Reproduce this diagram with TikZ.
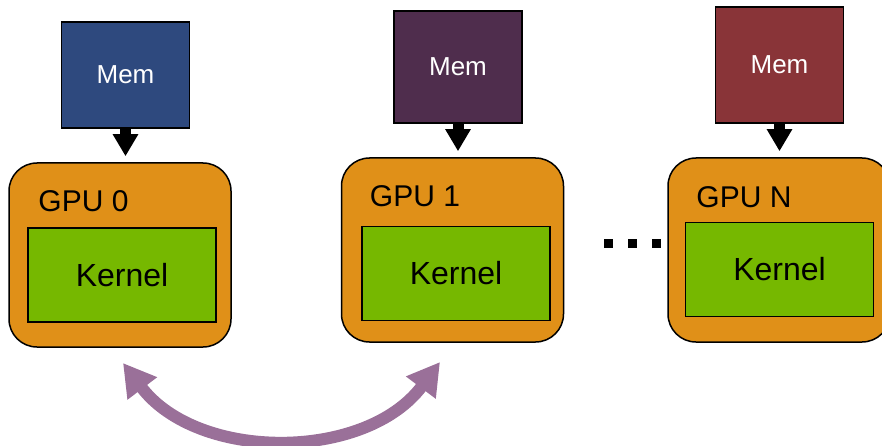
\documentclass[tikz,border=0pt]{standalone}
\usepackage{fontspec}
\setmainfont{Liberation Sans}
\usetikzlibrary{arrows.meta,positioning}
\definecolor{memblue}{RGB}{46,73,126}
\definecolor{mempurple}{RGB}{79,45,77}
\definecolor{memred}{RGB}{137,52,56}
\definecolor{gpuorange}{RGB}{224,144,24}
\definecolor{kernelgreen}{RGB}{118,184,0}
\definecolor{linkpurple}{RGB}{154,112,153}

\begin{document}
\begin{tikzpicture}[x=1pt, y=1pt,
  mem/.style={draw=black, line width=1.5pt, minimum width=128pt,
    text=white, font=\fontsize{26}{30}\selectfont, inner sep=0pt},
  gpu/.style={draw=black, line width=1.5pt, rounded corners=28pt, fill=gpuorange,
    minimum width=222pt, minimum height=184pt},
  kernel/.style={draw=black, line width=1.5pt, fill=kernelgreen,
    minimum width=188pt, minimum height=94pt, font=\fontsize{32}{36}\selectfont},
  gpulbl/.style={anchor=base west, font=\fontsize{30}{34}\selectfont, inner sep=0pt},
  feed/.style={-{Triangle[width=24pt,length=22pt]}, line width=11pt, shorten >=6pt},
  link/.style={{Triangle[width=35pt,length=32pt]}-{Triangle[width=35pt,length=32pt]},
    line width=12pt, linkpurple},
  dot/.style={fill=black, minimum size=9pt, inner sep=0pt}
]
\clip (0,0) rectangle (882,445);
% memories
\node[mem, fill=memblue, minimum height=106pt] (m0) at (125.5,370) {Mem};
\node[mem, fill=mempurple, minimum height=112pt] (m1) at (458,378) {Mem};
\node[mem, fill=memred, minimum height=116pt] (mN) at (779.5,380) {Mem};
% gpus
\node[gpu] (g0) at (120,190) {};
\node[gpu] (g1) at (452.5,195) {};
\node[gpu] (gN) at (779,195) {};
\node[gpulbl, xshift=30pt, yshift=-49pt] (t0) at (g0.north west) {GPU 0};
\node[gpulbl, xshift=29pt, yshift=-49pt] (t1) at (g1.north west) {GPU 1};
\node[gpulbl, xshift=29pt, yshift=-50pt] (tN) at (gN.north west) {GPU N};
\node[kernel] (k0) at (122,170) {Kernel};
\node[kernel] (k1) at (456,171.5) {Kernel};
\node[kernel] (kN) at (779.5,175.5) {Kernel};
% mem -> gpu
\draw[feed] (m0.south) -- (m0.south |- g0.north);
\draw[feed] (m1.south) -- (m1.south |- g1.north);
\draw[feed] (mN.south) -- (mN.south |- gN.north);
% more gpus
\foreach \x [count=\i] in {608,632,656}
  \node[dot] (d\i) at (\x,202) {};
% exchange between gpus
\coordinate (e0) at (123,82);
\coordinate (e1) at (440,83);
\draw[link] (e0) to[bend right=53] (e1);
\end{tikzpicture}
\end{document}
